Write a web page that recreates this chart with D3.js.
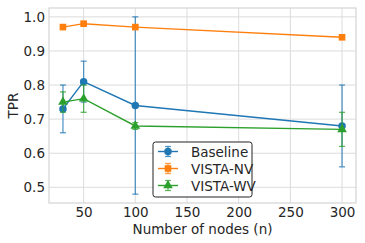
<!DOCTYPE html>
<html>
<head>
<meta charset="utf-8">
<script src="https://cdn.jsdelivr.net/npm/d3@7"></script>
<style>
  body { margin: 0; background: #fff; }
  text { font-family: "DejaVu Sans", sans-serif; fill: #262626; }
</style>
</head>
<body>
<svg width="365" height="243"></svg>
<script>
var nodes = [30, 50, 100, 300];
var baseline = [0.73, 0.81, 0.74, 0.68];
var baselineErr = [0.07, 0.06, 0.26, 0.12];
var vistaNV = [0.97, 0.98, 0.97, 0.94];
var vistaNVErr = [0.005, 0.005, 0.005, 0.005];
var vistaWV = [0.75, 0.76, 0.68, 0.67];
var vistaWVErr = [0.03, 0.04, 0.01, 0.05];
var xTicks = [50, 100, 150, 200, 250, 300];
var yTicks = [0.5, 0.6, 0.7, 0.8, 0.9, 1.0];

var series = [
    {name: "Baseline", values: baseline, err: baselineErr, color: "#1f77b4", marker: d3.symbolCircle, size: 44},
    {name: "VISTA-NV", values: vistaNV, err: vistaNVErr, color: "#ff7f0e", marker: d3.symbolSquare, size: 44},
    {name: "VISTA-WV", values: vistaWV, err: vistaWVErr, color: "#2ca02c", marker: d3.symbolTriangle, size: 40}
];

var margin = {top: 8, right: 9, bottom: 40, left: 49},
    width = 365 - margin.left - margin.right,
    height = 243 - margin.top - margin.bottom;

var fs = "13.5px";

var x = d3.scaleLinear().domain([16.5, 313.5]).range([0, width]);
var y = d3.scaleLinear().domain([0.454, 1.026]).range([height, 0]);

var svg = d3.select("svg");
var g = svg.append("g")
    .attr("transform", "translate(" + margin.left + "," + margin.top + ")");

// grid
g.append("g").selectAll("line").data(xTicks).join("line")
    .attr("x1", d => x(d)).attr("x2", d => x(d))
    .attr("y1", 0).attr("y2", height)
    .attr("stroke", "#dcdcdc").attr("stroke-width", 1);
g.append("g").selectAll("line").data(yTicks).join("line")
    .attr("x1", 0).attr("x2", width)
    .attr("y1", d => y(d)).attr("y2", d => y(d))
    .attr("stroke", "#dcdcdc").attr("stroke-width", 1);

// frame
g.append("rect")
    .attr("width", width).attr("height", height)
    .attr("fill", "none").attr("stroke", "#d4d4d4").attr("stroke-width", 1.2);

// axes
var xAxis = d3.axisBottom(x).tickValues(xTicks).tickSize(0).tickPadding(4);
var yAxis = d3.axisLeft(y).tickValues(yTicks).tickSize(0).tickPadding(4).tickFormat(d3.format(".1f"));

g.append("g").attr("transform", "translate(0," + height + ")").call(xAxis)
    .call(s => s.select(".domain").remove())
    .selectAll("text").style("font-size", fs).attr("fill", "#262626");
g.append("g").call(yAxis)
    .call(s => s.select(".domain").remove())
    .selectAll("text").style("font-size", fs).attr("fill", "#262626");

svg.append("text")
    .attr("x", margin.left + width / 2).attr("y", 234)
    .attr("text-anchor", "middle").style("font-size", fs)
    .text("Number of nodes (n)");
svg.append("text")
    .attr("transform", "translate(18," + (margin.top + height / 2) + ") rotate(-90)")
    .attr("text-anchor", "middle").style("font-size", fs)
    .text("TPR");

var line = d3.line().x(d => x(d[0])).y(d => y(d[1]));

series.forEach(function(s) {
    var pts = nodes.map((n, i) => [n, s.values[i], s.err[i]]);
    var sg = g.append("g");
    // error bars
    var eb = sg.append("g").attr("stroke", s.color).attr("stroke-opacity", 0.75).attr("stroke-width", 1.3);
    pts.forEach(function(p) {
        eb.append("line").attr("x1", x(p[0])).attr("x2", x(p[0]))
            .attr("y1", y(p[1] - p[2])).attr("y2", y(p[1] + p[2]));
        [p[1] - p[2], p[1] + p[2]].forEach(function(v) {
            eb.append("line").attr("x1", x(p[0]) - 3).attr("x2", x(p[0]) + 3)
                .attr("y1", y(v)).attr("y2", y(v));
        });
    });
    sg.append("path").datum(pts).attr("d", line)
        .attr("fill", "none").attr("stroke", s.color).attr("stroke-width", 1.4);
    sg.selectAll("path.m").data(pts).join("path").attr("class", "m")
        .attr("transform", d => "translate(" + x(d[0]) + "," + y(d[1]) + ")")
        .attr("d", d3.symbol().type(s.marker).size(s.size))
        .attr("fill", s.color);
});

// legend
var lg = g.append("g").attr("transform", "translate(" + (153 - margin.left) + "," + (142 - margin.top) + ")");
lg.append("rect").attr("width", 99).attr("height", 55).attr("rx", 2.5)
    .attr("fill", "#fff").attr("fill-opacity", 0.9)
    .attr("stroke", "#222").attr("stroke-width", 1);
series.forEach(function(s, i) {
    var yy = 9.5 + i * 17;
    var row = lg.append("g").attr("transform", "translate(0," + yy + ")");
    row.append("line").attr("x1", 5).attr("x2", 25).attr("stroke", s.color).attr("stroke-width", 1.4);
    row.append("line").attr("x1", 15).attr("x2", 15).attr("y1", -5).attr("y2", 5)
        .attr("stroke", s.color).attr("stroke-opacity", 0.75).attr("stroke-width", 1.3);
    [-5, 5].forEach(function(v) {
        row.append("line").attr("x1", 12).attr("x2", 18).attr("y1", v).attr("y2", v)
            .attr("stroke", s.color).attr("stroke-opacity", 0.75).attr("stroke-width", 1.3);
    });
    row.append("path").attr("transform", "translate(15,0)")
        .attr("d", d3.symbol().type(s.marker).size(s.size)).attr("fill", s.color);
    row.append("text").attr("x", 38).attr("y", 5).style("font-size", fs).text(s.name);
});
</script>
</body>
</html>
